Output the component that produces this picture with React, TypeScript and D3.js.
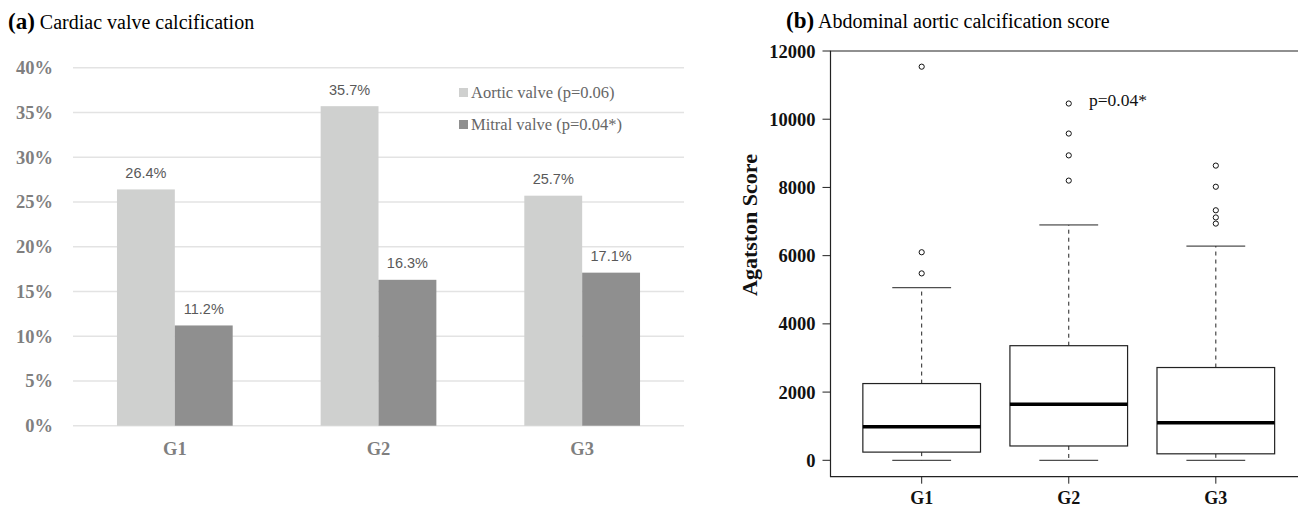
import React, { useEffect, useRef } from "react";
import * as d3 from "d3";

// (a) cardiac valve calcification, percent of patients
const groups = ["G1", "G2", "G3"];
const valveKeys = ["aortic", "mitral"];
const valveLabels = ["Aortic valve (p=0.06)", "Mitral valve (p=0.04*)"];
const aorticPct = [26.4, 35.7, 25.7];
const mitralPct = [11.2, 16.3, 17.1];
const pctTicks = [0, 5, 10, 15, 20, 25, 30, 35, 40];

// (b) abdominal aortic calcification, Agatston score
// [lower whisker, Q1, median, Q3, upper whisker]
const g1Stats = [0, 240, 980, 2250, 5060];
const g2Stats = [0, 420, 1640, 3360, 6900];
const g3Stats = [0, 190, 1100, 2720, 6280];
const g1Outliers = [5480, 6100, 11540];
const g2Outliers = [8200, 8940, 9580, 10460];
const g3Outliers = [6940, 7120, 7330, 8020, 8640];
const scoreTicks = [0, 2000, 4000, 6000, 8000, 10000, 12000];

const SERIF = "'Liberation Serif', 'Times New Roman', serif";
const SANS = "'Liberation Sans Narrow', 'Liberation Sans', Arial, sans-serif";

export default function App() {
  const ref = useRef<SVGSVGElement>(null);

  useEffect(() => {
    const svg = d3.select(ref.current);
    svg.selectAll("*").remove();

    // ---------- panel a: grouped bars ----------
    const a = svg.append("g");
    const y = d3.scaleLinear().domain([0, 40]).range([425.7, 67.7]);
    const x = d3.scaleBand().domain(groups).range([73, 684]);
    const xs = d3
      .scaleBand()
      .domain(valveKeys)
      .range([0, x.bandwidth()])
      .paddingOuter(0.76);
    const color = d3.scaleOrdinal<string>().domain(valveKeys).range(["#cfd0cf", "#8f8f8f"]);

    a.append("text")
      .attr("x", 8)
      .attr("y", 29)
      .attr("font-family", SERIF)
      .call((t) => {
        t.append("tspan").attr("font-weight", "bold").attr("font-size", 23).text("(a)");
        t.append("tspan").attr("font-size", 20).text(" Cardiac valve calcification");
      });

    a.selectAll("line.grid")
      .data(pctTicks)
      .join("line")
      .attr("class", "grid")
      .attr("x1", 73)
      .attr("x2", 684)
      .attr("y1", (d) => y(d))
      .attr("y2", (d) => y(d))
      .attr("stroke", "#e3e3e3")
      .attr("stroke-width", 1.5);

    a.selectAll("text.ytick")
      .data(pctTicks)
      .join("text")
      .attr("class", "ytick")
      .attr("x", 53)
      .attr("y", (d) => y(d) + 6.5)
      .attr("text-anchor", "end")
      .attr("font-family", SERIF)
      .attr("font-weight", "bold")
      .attr("font-size", 18.5)
      .attr("fill", "#7f7f7f")
      .text((d) => d + "%");

    const rows = groups.map((g, i) => ({ g, aortic: aorticPct[i], mitral: mitralPct[i] }));
    const cells = rows.flatMap((r) =>
      valveKeys.map((k) => ({ g: r.g, k, v: (r as any)[k] as number }))
    );

    a.selectAll("rect.bar")
      .data(cells)
      .join("rect")
      .attr("class", "bar")
      .attr("x", (d) => (x(d.g) as number) + (xs(d.k) as number))
      .attr("width", xs.bandwidth())
      .attr("y", (d) => y(d.v))
      .attr("height", (d) => y(0) - y(d.v))
      .attr("fill", (d) => color(d.k));

    a.selectAll("text.val")
      .data(cells)
      .join("text")
      .attr("class", "val")
      .attr("x", (d) => (x(d.g) as number) + (xs(d.k) as number) + xs.bandwidth() / 2)
      .attr("y", (d) => y(d.v) - 11.5)
      .attr("text-anchor", "middle")
      .attr("font-family", SANS)
      .attr("font-size", 14.5)
      .attr("fill", "#595959")
      .text((d) => d.v.toFixed(1) + "%");

    a.selectAll("text.xlab")
      .data(groups)
      .join("text")
      .attr("class", "xlab")
      .attr("x", (d) => (x(d) as number) + x.bandwidth() / 2)
      .attr("y", 455)
      .attr("text-anchor", "middle")
      .attr("font-family", SERIF)
      .attr("font-weight", "bold")
      .attr("font-size", 18.5)
      .attr("fill", "#7f7f7f")
      .text((d) => d);

    const leg = a
      .selectAll("g.leg")
      .data(valveKeys)
      .join("g")
      .attr("class", "leg")
      .attr("transform", (d, i) => `translate(459,${88 + i * 32})`);
    leg.append("rect").attr("width", 9).attr("height", 9).attr("fill", (d) => color(d));
    leg
      .append("text")
      .attr("x", 12)
      .attr("y", 10)
      .attr("font-family", SERIF)
      .attr("font-size", 16.5)
      .attr("fill", "#666")
      .text((d, i) => valveLabels[i]);

    // ---------- panel b: box plot ----------
    const b = svg.append("g");
    const stats = [g1Stats, g2Stats, g3Stats];
    const outliers = [g1Outliers, g2Outliers, g3Outliers];
    const yB = d3.scaleLinear().domain([0, 12000]).range([460.3, 51]);
    const xB = d3.scaleLinear().domain([0.38, 3.62]).range([830.5, 1307]);
    const half = xB(1.4) - xB(1);
    const capHalf = half / 2;
    const frameTop = yB(12000);
    const frameBottom = yB(-480);

    b.append("text")
      .attr("x", 786)
      .attr("y", 28)
      .attr("font-family", SERIF)
      .call((t) => {
        t.append("tspan").attr("font-weight", "bold").attr("font-size", 23).text("(b)");
        t.append("tspan").attr("font-size", 20).text(" Abdominal aortic calcification score");
      });

    // frame (right side falls outside the picture)
    b.append("path")
      .attr("d", `M1310,${frameTop}H${xB(0.38)}V${frameBottom}H1310`)
      .attr("fill", "none")
      .attr("stroke", "#222")
      .attr("stroke-width", 1.2);

    b.selectAll("line.ytick")
      .data(scoreTicks)
      .join("line")
      .attr("class", "ytick")
      .attr("x1", xB(0.38) - 8)
      .attr("x2", xB(0.38))
      .attr("y1", (d) => yB(d))
      .attr("y2", (d) => yB(d))
      .attr("stroke", "#222");

    b.selectAll("text.ytick")
      .data(scoreTicks)
      .join("text")
      .attr("class", "ytick")
      .attr("x", xB(0.38) - 15)
      .attr("y", (d) => yB(d) + 6.5)
      .attr("text-anchor", "end")
      .attr("font-family", SERIF)
      .attr("font-weight", "bold")
      .attr("font-size", 18.5)
      .attr("fill", "#111")
      .text((d) => String(d));

    b.append("text")
      .attr("transform", "translate(757,225) rotate(-90)")
      .attr("text-anchor", "middle")
      .attr("font-family", SERIF)
      .attr("font-weight", "bold")
      .attr("font-size", 22)
      .attr("fill", "#111")
      .text("Agatston Score");

    const box = b
      .selectAll("g.box")
      .data(stats)
      .join("g")
      .attr("class", "box")
      .attr("transform", (d, i) => `translate(${xB(i + 1)},0)`);

    // whiskers
    box
      .append("line")
      .attr("y1", (d) => yB(d[3]))
      .attr("y2", (d) => yB(d[4]))
      .attr("stroke", "#222")
      .attr("stroke-dasharray", "4,4");
    box
      .append("line")
      .attr("y1", (d) => yB(d[1]))
      .attr("y2", (d) => yB(d[0]))
      .attr("stroke", "#222")
      .attr("stroke-dasharray", "4,4");
    box
      .selectAll("line.cap")
      .data((d) => [d[0], d[4]])
      .join("line")
      .attr("class", "cap")
      .attr("x1", -capHalf)
      .attr("x2", capHalf)
      .attr("y1", (v) => yB(v))
      .attr("y2", (v) => yB(v))
      .attr("stroke", "#222");
    box
      .append("rect")
      .attr("x", -half)
      .attr("width", half * 2)
      .attr("y", (d) => yB(d[3]))
      .attr("height", (d) => yB(d[1]) - yB(d[3]))
      .attr("fill", "white")
      .attr("stroke", "#222")
      .attr("stroke-width", 1.2);
    box
      .append("line")
      .attr("x1", -half)
      .attr("x2", half)
      .attr("y1", (d) => yB(d[2]))
      .attr("y2", (d) => yB(d[2]))
      .attr("stroke", "#000")
      .attr("stroke-width", 3.5);
    box
      .selectAll("circle")
      .data((d, i) => outliers[i])
      .join("circle")
      .attr("cy", (v) => yB(v))
      .attr("r", 2.6)
      .attr("fill", "none")
      .attr("stroke", "#111")
      .attr("stroke-width", 1);

    b.selectAll("line.xtick")
      .data(groups)
      .join("line")
      .attr("class", "xtick")
      .attr("x1", (d, i) => xB(i + 1))
      .attr("x2", (d, i) => xB(i + 1))
      .attr("y1", frameBottom)
      .attr("y2", frameBottom + 7)
      .attr("stroke", "#222");

    b.selectAll("text.xlab")
      .data(groups)
      .join("text")
      .attr("class", "xlab")
      .attr("x", (d, i) => xB(i + 1))
      .attr("y", 504)
      .attr("text-anchor", "middle")
      .attr("font-family", SERIF)
      .attr("font-weight", "bold")
      .attr("font-size", 18)
      .attr("fill", "#111")
      .text((d) => d);

    b.append("text")
      .attr("x", 1089)
      .attr("y", 106)
      .attr("font-family", SERIF)
      .attr("font-size", 17.5)
      .attr("fill", "#111")
      .text("p=0.04*");
  }, []);

  return (
    <div>
      <style>{"body{margin:0}"}</style>
      <svg ref={ref} width={1298} height={509} style={{ display: "block" }} />
    </div>
  );
}
